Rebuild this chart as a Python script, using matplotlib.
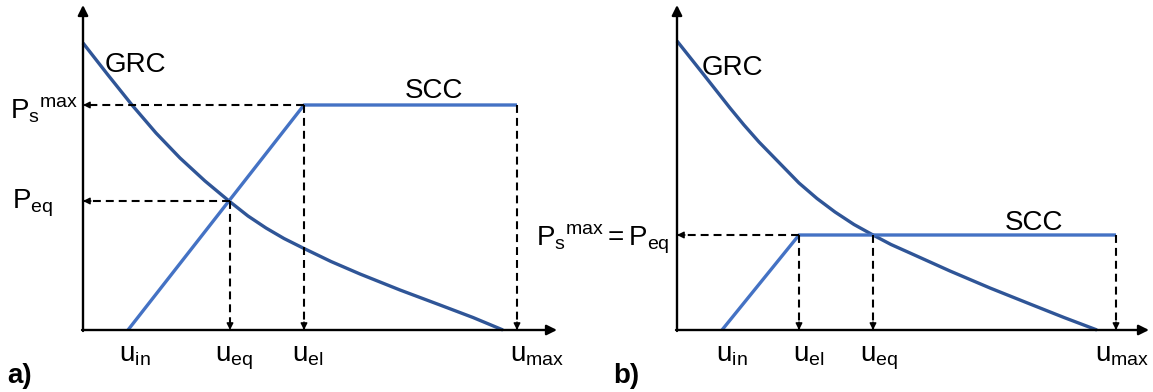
import matplotlib

matplotlib.use("Agg")
import matplotlib.pyplot as plt


plt.rcParams["font.family"] = ["Liberation Sans", "DejaVu Sans"]
plt.rcParams["mathtext.fontset"] = "custom"
plt.rcParams["mathtext.rm"] = "Liberation Sans"
plt.rcParams["mathtext.it"] = "Liberation Sans"
plt.rcParams["mathtext.bf"] = "Liberation Sans:bold"

GRC_COLOR = "#2f5597"
SCC_COLOR = "#4472c4"
FONT_SIZE = 20

# case a): equilibrium power below the electrical limit
a_u_in, a_u_eq, a_u_el, a_u_max = 45, 147, 221, 434
a_p_smax, a_p_eq = 225, 129
a_grc_u = [0, 25, 49, 73, 97, 122, 146, 165, 183, 201, 220,
           248, 277, 317, 357, 390, 420]
a_grc_p = [287, 255, 225, 197, 172, 149, 129, 114, 102, 91.5, 82,
           68.5, 56, 40, 25, 12.5, 0]

# case b): equilibrium on the flat part, Ps_max = P_eq
b_u_in, b_u_el, b_u_eq, b_u_max = 45, 122, 196, 439
b_p_smax = 95
b_grc_u = [0, 27, 53, 67, 82, 102, 122, 140, 158, 177, 196,
           214, 233, 253, 273, 313, 353, 387, 420]
b_grc_p = [289, 255, 222, 205, 188, 167.5, 147, 131.5, 118, 105.5, 95,
           85.5, 77, 68, 59, 42, 26, 12.5, 0]


def draw_axes(ax, x_end, y_end):
    style = dict(arrowstyle="-|>", lw=1.7, color="black", mutation_scale=15,
                 shrinkA=0, shrinkB=0)
    ax.annotate("", xy=(x_end, 0), xytext=(-1, 0), arrowprops=style)
    ax.annotate("", xy=(0, y_end), xytext=(0, -1), arrowprops=style)


def dashed_arrow(ax, start, end):
    ax.plot([start[0], end[0]], [start[1], end[1]], color="black", lw=1.5,
            linestyle=(0, (3.8, 2.4)), solid_capstyle="butt")
    dx = end[0] - start[0]
    dy = end[1] - start[1]
    length = (dx ** 2 + dy ** 2) ** 0.5
    tail = (end[0] - 8 * dx / length, end[1] - 8 * dy / length)
    ax.annotate("", xy=end, xytext=tail,
                arrowprops=dict(arrowstyle="-|>", lw=1.0, color="black",
                                mutation_scale=10, shrinkA=0, shrinkB=0))


def add_label(ax, x, y, text, **kwargs):
    ax.text(x, y, text, fontsize=FONT_SIZE, va="baseline", **kwargs)


def setup(ax, left_px, width_px):
    ax.set_xlim(-left_px, width_px - left_px)
    ax.set_ylim(-62, 330)
    ax.axis("off")


def draw_curves(ax, grc_u, grc_p, scc_u, scc_p):
    ax.plot(grc_u, grc_p, color=GRC_COLOR, lw=2.4, solid_capstyle="butt",
            solid_joinstyle="round")
    ax.plot(scc_u, scc_p, color=SCC_COLOR, lw=2.4, solid_capstyle="butt")


fig = plt.figure(figsize=(11.53, 3.92), dpi=100)

# ---- panel a ----
ax_a = fig.add_axes([0, 0, 660 / 1153, 1])
setup(ax_a, 83, 660)
draw_axes(ax_a, 474, 325)
draw_curves(ax_a, a_grc_u, a_grc_p,
            [a_u_in, a_u_el, a_u_max], [0, a_p_smax, a_p_smax])

dashed_arrow(ax_a, (a_u_el, a_p_smax), (0, a_p_smax))
dashed_arrow(ax_a, (a_u_eq, a_p_eq), (0, a_p_eq))
dashed_arrow(ax_a, (a_u_eq, a_p_eq), (a_u_eq, 0))
dashed_arrow(ax_a, (a_u_el, a_p_smax), (a_u_el, 0))
dashed_arrow(ax_a, (a_u_max, a_p_smax), (a_u_max, 0))

add_label(ax_a, 22, 258, "GRC")
add_label(ax_a, 322, 232, "SCC")
add_label(ax_a, -73, a_p_smax - 13, r"$\mathrm{P_s{}^{max}}$")
add_label(ax_a, -71, a_p_eq - 7, r"$\mathrm{P_{eq}}$")
for u, name, shift in [(a_u_in, "in", -9), (a_u_eq, "eq", -15),
                       (a_u_el, "el", -12), (a_u_max, "max", -7)]:
    add_label(ax_a, u + shift, -32, r"$\mathrm{u_{%s}}$" % name)
add_label(ax_a, -76, -53, "a)", fontweight="bold")

# ---- panel b ----
ax_b = fig.add_axes([580 / 1153, 0, 573 / 1153, 1])
setup(ax_b, 97, 573)
draw_axes(ax_b, 472, 325)
draw_curves(ax_b, b_grc_u, b_grc_p,
            [b_u_in, b_u_el, b_u_max], [0, b_p_smax, b_p_smax])

dashed_arrow(ax_b, (b_u_el, b_p_smax), (0, b_p_smax))
dashed_arrow(ax_b, (b_u_el, b_p_smax), (b_u_el, 0))
dashed_arrow(ax_b, (b_u_eq, b_p_smax), (b_u_eq, 0))
dashed_arrow(ax_b, (b_u_max, b_p_smax), (b_u_max, 0))

add_label(ax_b, 25, 255, "GRC")
add_label(ax_b, 328, 100, "SCC")
add_label(ax_b, -7, b_p_smax - 10, r"$\mathrm{P_s{}^{max} = P_{eq}}$", ha="right")
for u, name, shift in [(b_u_in, "in", -6), (b_u_el, "el", -6),
                       (b_u_eq, "eq", -13), (b_u_max, "max", -21)]:
    add_label(ax_b, u + shift, -32, r"$\mathrm{u_{%s}}$" % name)
add_label(ax_b, -64, -53, "b)", fontweight="bold")

fig.savefig("out.png", dpi=100)
